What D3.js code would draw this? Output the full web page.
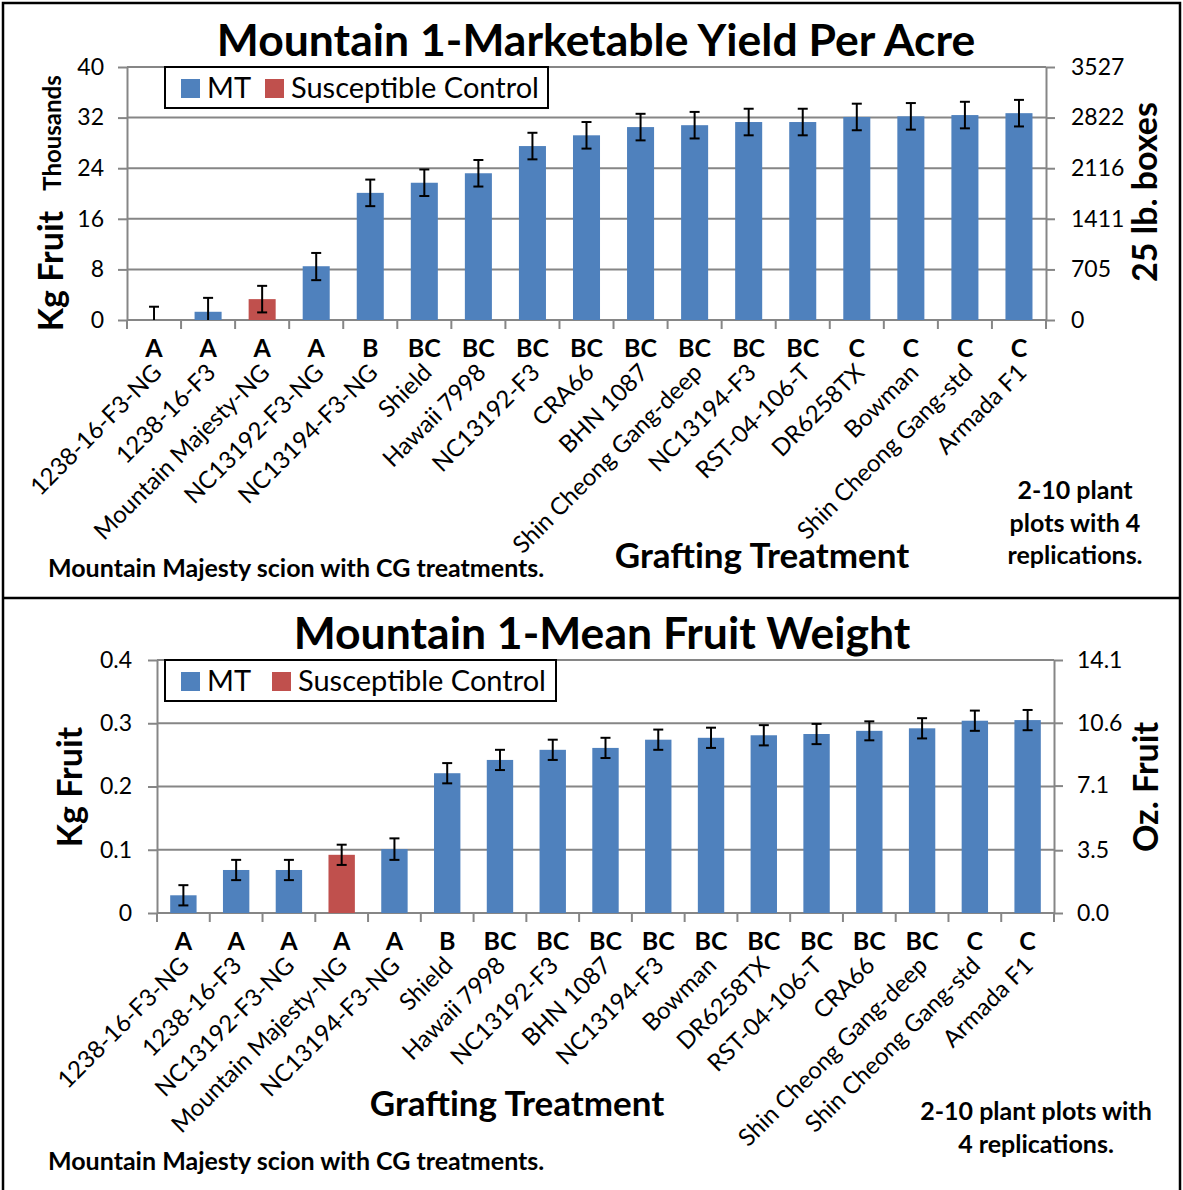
<!DOCTYPE html>
<html>
<head>
<meta charset="utf-8">
<script src="https://cdn.jsdelivr.net/npm/d3@7"></script>
<style>
  body { margin: 0; background: #fff; }
  svg text { font-family: Lato, "Open Sans", sans-serif; fill: #000; }
  .axis path, .axis line { stroke: #868686; stroke-width: 2; }
  .axis text { font-size: 23px; }
  .grid line { stroke: #868686; stroke-width: 2; }
</style>
</head>
<body>
<svg id="chart" width="1183" height="1190"></svg>
<script>
// top chart - marketable yield, thousands of kg per acre
var yieldCats = ["1238-16-F3-NG", "1238-16-F3", "Mountain Majesty-NG", "NC13192-F3-NG", "NC13194-F3-NG",
  "Shield", "Hawaii 7998", "NC13192-F3", "CRA66", "BHN 1087", "Shin Cheong Gang-deep", "NC13194-F3",
  "RST-04-106-T", "DR6258TX", "Bowman", "Shin Cheong Gang-std", "Armada F1"];
var yieldVals = [0, 1.3, 3.3, 8.5, 20.1, 21.7, 23.2, 27.5, 29.2, 30.5, 30.8, 31.3, 31.3, 32.1, 32.2, 32.4, 32.7];
var yieldErr = [2.1, 2.2, 2.1, 2.1, 2.1, 2.1, 2.1, 2.1, 2.1, 2.1, 2.1, 2.1, 2.1, 2.1, 2.1, 2.1, 2.1];
var yieldLetters = ["A", "A", "A", "A", "B", "BC", "BC", "BC", "BC", "BC", "BC", "BC", "BC", "C", "C", "C", "C"];
var yieldKgTicks = [0, 8, 16, 24, 32, 40];
var yieldBoxTicks = [0, 705, 1411, 2116, 2822, 3527];

// bottom chart - mean fruit weight, kg
var weightCats = ["1238-16-F3-NG", "1238-16-F3", "NC13192-F3-NG", "Mountain Majesty-NG", "NC13194-F3-NG",
  "Shield", "Hawaii 7998", "NC13192-F3", "BHN 1087", "NC13194-F3", "Bowman", "DR6258TX", "RST-04-106-T",
  "CRA66", "Shin Cheong Gang-deep", "Shin Cheong Gang-std", "Armada F1"];
var weightVals = [0.028, 0.068, 0.068, 0.092, 0.101, 0.221, 0.242, 0.258, 0.261, 0.274, 0.277, 0.281, 0.283, 0.288, 0.292, 0.304, 0.305];
var weightErr = [0.016, 0.016, 0.016, 0.016, 0.017, 0.016, 0.016, 0.016, 0.016, 0.016, 0.016, 0.016, 0.016, 0.015, 0.016, 0.016, 0.016];
var weightLetters = ["A", "A", "A", "A", "A", "B", "BC", "BC", "BC", "BC", "BC", "BC", "BC", "BC", "BC", "C", "C"];
var weightKgTicks = [0, 0.1, 0.2, 0.3, 0.4];
var weightOzTicks = [0, 3.5, 7.1, 10.6, 14.1];

var controlName = "Mountain Majesty-NG";
var colMT = "#4f81bd", colControl = "#c0504d";

var svg = d3.select("#chart");

// frame round both panels
svg.append("rect")
  .attr("x", 3).attr("y", 3).attr("width", 1177).attr("height", 1200)
  .style("fill", "none").style("stroke", "#000").style("stroke-width", 2.5);
svg.append("line")
  .attr("x1", 3).attr("x2", 1180).attr("y1", 598).attr("y2", 598)
  .style("stroke", "#000").style("stroke-width", 2.5);

function drawPanel(p) {
  var g = svg.append("g");
  var n = p.cats.length;

  // half-gap at each end, like excel's category axis
  var x = d3.scaleBand().domain(p.cats).range([p.left, p.right]).paddingInner(0.5).paddingOuter(0.25);
  var y = d3.scaleLinear().domain([0, p.leftTicks[p.leftTicks.length - 1]]).range([p.bottom, p.top]);
  var y2 = d3.scaleLinear().domain([0, p.rightTicks[p.rightTicks.length - 1]]).range([p.bottom, p.top]);
  var edge = d3.scaleLinear().domain([0, n]).range([p.left, p.right]);

  // gridlines
  g.append("g").attr("class", "grid")
    .selectAll("line").data(p.leftTicks).enter().append("line")
    .attr("x1", p.left).attr("x2", p.right)
    .attr("y1", function(d) { return y(d); }).attr("y2", function(d) { return y(d); });

  g.append("g").attr("class", "axis")
    .attr("transform", "translate(" + p.left + ",0)")
    .call(d3.axisLeft(y).tickValues(p.leftTicks).tickFormat(p.leftFormat).tickSize(9).tickSizeOuter(0).tickPadding(p.leftPad));

  g.append("g").attr("class", "axis")
    .attr("transform", "translate(" + p.right + ",0)")
    .call(d3.axisRight(y2).tickValues(p.rightTicks).tickFormat(p.rightFormat).tickSize(9).tickSizeOuter(0).tickPadding(p.rightPad));

  // category axis, ticks between bars
  g.append("line")
    .attr("x1", p.left).attr("x2", p.right).attr("y1", p.bottom).attr("y2", p.bottom)
    .style("stroke", "#868686").style("stroke-width", 2);
  g.selectAll(".catTick").data(d3.range(n + 1)).enter().append("line")
    .attr("x1", function(d) { return edge(d); }).attr("x2", function(d) { return edge(d); })
    .attr("y1", p.bottom).attr("y2", p.bottom + 9)
    .style("stroke", "#868686").style("stroke-width", 2);

  // bars
  g.selectAll(".bar").data(p.vals).enter().append("rect")
    .attr("x", function(d, i) { return x(p.cats[i]); })
    .attr("width", x.bandwidth())
    .attr("y", function(d) { return y(d); })
    .attr("height", function(d) { return p.bottom - y(d); })
    .style("fill", function(d, i) { return p.cats[i] == controlName ? colControl : colMT; });

  // error bars
  var eb = g.selectAll(".err").data(p.vals).enter().append("g")
    .attr("transform", function(d, i) { return "translate(" + (x(p.cats[i]) + x.bandwidth() / 2) + ",0)"; })
    .style("stroke", "#000").style("stroke-width", 2);
  eb.append("line")
    .attr("y1", function(d, i) { return y(d + p.err[i]); })
    .attr("y2", function(d, i) { return y(Math.max(0, d - p.err[i])); });
  eb.append("line")
    .attr("x1", -5).attr("x2", 5)
    .attr("y1", function(d, i) { return y(d + p.err[i]); })
    .attr("y2", function(d, i) { return y(d + p.err[i]); });
  eb.filter(function(d, i) { return d - p.err[i] >= 0; }).append("line")
    .attr("x1", -5).attr("x2", 5)
    .attr("y1", function(d, i) { return y(d - p.err[i]); })
    .attr("y2", function(d, i) { return y(d - p.err[i]); });

  // significance letters
  g.selectAll(".letter").data(p.letters).enter().append("text")
    .attr("x", function(d, i) { return x(p.cats[i]) + x.bandwidth() / 2; })
    .attr("y", p.bottom + 37)
    .style("text-anchor", "middle").style("font-weight", "bold").style("font-size", "25px")
    .text(function(d) { return d; });

  // category names
  g.selectAll(".cat").data(p.cats).enter().append("text")
    .attr("transform", function(d) { return "translate(" + (x(d) + x.bandwidth() / 2 + p.catDx) + "," + (p.bottom + 54) + ") rotate(-45)"; })
    .style("text-anchor", "end").style("font-size", "24px")
    .text(function(d) { return d; });

  // title
  g.append("text")
    .attr("x", p.titleX).attr("y", p.titleY)
    .style("text-anchor", "middle").style("font-weight", "bold").style("font-size", "44.5px")
    .text(p.title);

  // legend
  var lg = g.append("g").attr("transform", "translate(" + p.legendX + "," + p.top + ")");
  lg.append("rect").attr("width", p.legendW).attr("height", 41)
    .style("fill", "#fff").style("stroke", "#000").style("stroke-width", 2);
  lg.append("rect").attr("x", 16).attr("y", 12).attr("width", 19).attr("height", 19).style("fill", colMT);
  lg.append("text").attr("x", 42).attr("y", 31).style("font-size", "29px").text("MT");
  lg.append("rect").attr("x", p.legendGap).attr("y", 12).attr("width", 19).attr("height", 19).style("fill", colControl);
  lg.append("text").attr("x", p.legendGap + 26).attr("y", 31).style("font-size", "29px").text("Susceptible Control");

  // axis titles
  g.append("text")
    .attr("transform", "translate(" + p.leftTitleX + "," + p.leftTitleY + ") rotate(-90)")
    .style("text-anchor", "middle").style("font-weight", "bold").style("font-size", "34px")
    .text("Kg Fruit");
  g.append("text")
    .attr("transform", "translate(" + p.rightTitleX + "," + p.rightTitleY + ") rotate(-90)")
    .style("text-anchor", "middle").style("font-weight", "bold").style("font-size", "34px")
    .text(p.rightTitle);
  g.append("text")
    .attr("x", p.xTitleX).attr("y", p.xTitleY)
    .style("text-anchor", "middle").style("font-weight", "bold").style("font-size", "35px")
    .text("Grafting Treatment");

  // notes
  g.append("text")
    .attr("x", 48).attr("y", p.scionY)
    .style("font-weight", "bold").style("font-size", "25px")
    .text("Mountain Majesty scion with CG treatments.");
  var note = g.append("text")
    .attr("x", p.noteX).attr("y", p.noteY)
    .style("text-anchor", "middle").style("font-weight", "bold").style("font-size", "25px");
  p.noteLines.forEach(function(t, i) {
    note.append("tspan").attr("x", p.noteX).attr("dy", i == 0 ? 0 : 32.5).text(t);
  });

  return g;
}

var topPanel = drawPanel({
  cats: yieldCats, vals: yieldVals, err: yieldErr, letters: yieldLetters,
  left: 127, right: 1046, top: 67, bottom: 320, catDx: 9,
  leftTicks: yieldKgTicks, leftFormat: d3.format("d"), leftPad: 14,
  rightTicks: yieldBoxTicks, rightFormat: d3.format("d"), rightPad: 16,
  title: "Mountain 1-Marketable Yield Per Acre", titleX: 596, titleY: 56,
  legendX: 165, legendW: 383, legendGap: 100,
  leftTitleX: 63, leftTitleY: 271, rightTitleX: 1157, rightTitleY: 192, rightTitle: "25 lb. boxes",
  xTitleX: 762, xTitleY: 568,
  scionY: 577, noteX: 1075, noteY: 499, noteLines: ["2-10 plant", "plots with 4", "replications."]
});

// "Thousands" unit label on the kg axis
topPanel.append("text")
  .attr("transform", "translate(61,133) rotate(-90)")
  .style("text-anchor", "middle").style("font-weight", "bold").style("font-size", "24px")
  .text("Thousands");

drawPanel({
  cats: weightCats, vals: weightVals, err: weightErr, letters: weightLetters,
  left: 157, right: 1054, top: 660, bottom: 913, catDx: 7,
  leftTicks: weightKgTicks, leftFormat: d3.format(".1~f"), leftPad: 16,
  rightTicks: weightOzTicks, rightFormat: d3.format(".1f"), rightPad: 14,
  title: "Mountain 1-Mean Fruit Weight", titleX: 602, titleY: 649,
  legendX: 165, legendW: 391, legendGap: 107,
  leftTitleX: 82, leftTitleY: 787, rightTitleX: 1158, rightTitleY: 787, rightTitle: "Oz. Fruit",
  xTitleX: 517, xTitleY: 1116,
  scionY: 1170, noteX: 1036, noteY: 1120, noteLines: ["2-10 plant plots with", "4 replications."]
});
</script>
</body>
</html>
